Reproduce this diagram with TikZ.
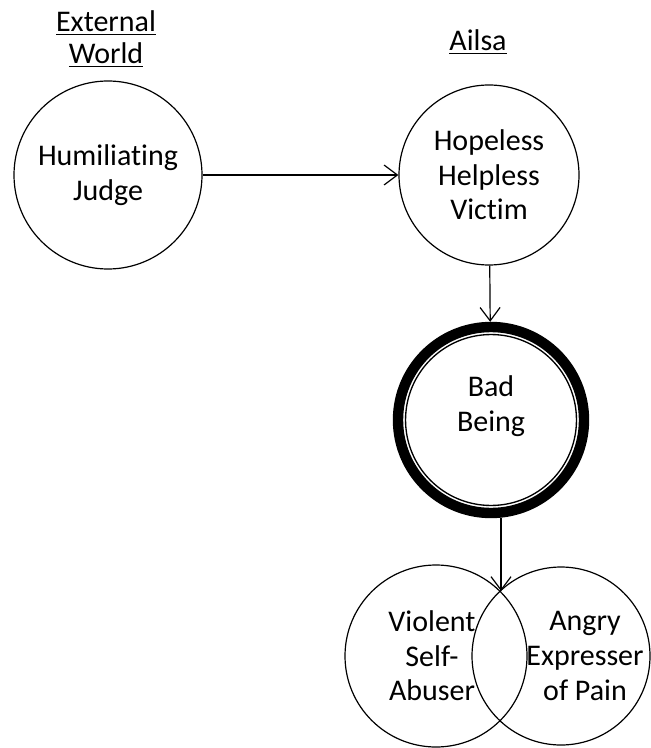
\documentclass[tikz,border=0pt]{standalone}
\usepackage{fontspec}
\setmainfont{Carlito}[Ligatures=NoCommon]
\usetikzlibrary{arrows.meta}
\begin{document}
\begin{tikzpicture}[x=0.75pt,y=-0.75pt,
  every node/.style={font=\fontsize{22.5}{26}\selectfont, align=center, inner sep=0pt},
  role/.style={circle, draw, line width=0.9pt, minimum size=#1},
  heading/.style={font=\fontsize{22.5}{24}\selectfont},
  arr/.style={-{Straight Barb[length=10pt,width=15pt]}, line width=0.9pt}
]
\useasboundingbox (0,0) rectangle (650,748);

% headings
\node[heading] (ext) at (106,39) {\underline{External}\\\underline{World}};
\node[heading] (ailsa) at (478,42) {\underline{Ailsa}};

% roles
\node[role=141pt] (judge) at (108,175) {Humiliating\\Judge};
\node[role=135pt] (victim) at (489,175) {Hopeless\\Helpless\\Victim};
\node[role=139.5pt, line width=7.8pt] (bad) at (491,420) {};
\draw[line width=1pt] (bad.center) circle[radius=64.1pt];
\node (badtxt) at (491,406) {Bad\\Being};

\node[role=136.5pt] (abuser) at (436,656) {};
\node[role=133.5pt] (angry) at (561,656) {};
\node (abusertxt) at (432,656) {Violent\\Self-\\Abuser};
\node (angrytxt) at (585,656) {Angry\\Expresser\\of Pain};
\coordinate (meet) at (501,591);

% connectors
\draw[arr] (judge) -- (victim);
\draw[arr] (victim) -- (bad);
\draw[arr] (meet |- bad.south) -- (meet);
\end{tikzpicture}
\end{document}
